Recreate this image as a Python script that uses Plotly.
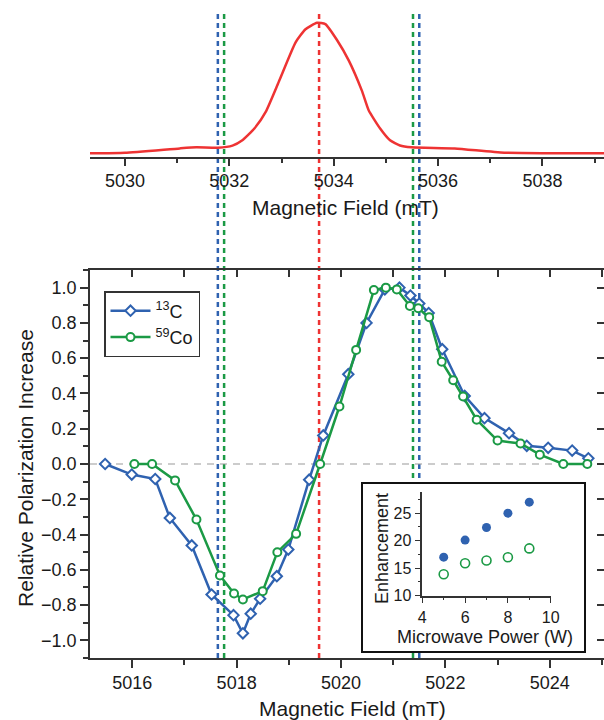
import plotly.graph_objects as go

# ---------------- data ----------------
# EPR line (top panel)
epr_field = [5029.33, 5030.0, 5031.05, 5031.37, 5031.78, 5032.06, 5032.25, 5032.48, 5032.70,
             5032.95, 5033.27, 5033.46, 5033.68, 5033.84, 5034.06, 5034.29, 5034.54, 5034.67,
             5034.89, 5035.08, 5035.27, 5035.49, 5036.32, 5037.27, 5039.18]
epr_signal = [0.0, 0.005, 0.038, 0.046, 0.043, 0.059, 0.10, 0.19, 0.32,
              0.55, 0.85, 0.95, 1.0, 0.99, 0.87, 0.71, 0.48, 0.33,
              0.19, 0.10, 0.06, 0.046, 0.038, 0.005, 0.0]

# dashed marker lines (in EPR-panel field units)
marker_fields = [5031.78, 5031.90, 5033.72, 5035.52, 5035.64]
marker_colors = ["#2F62B0", "#1B9A45", "#EE3333", "#1B9A45", "#2F62B0"]

# DNP field profiles (main panel)
c13_field = [5015.48, 5015.99, 5016.44, 5016.72, 5017.14, 5017.52, 5017.94, 5018.12, 5018.27,
             5018.45, 5018.77, 5018.99, 5019.39, 5019.66, 5020.14, 5020.49, 5020.84, 5021.12,
             5021.33, 5021.50, 5021.68, 5021.94, 5022.37, 5022.75, 5023.22, 5023.56, 5023.97,
             5024.43, 5024.74]
c13_pol = [0.0, -0.06, -0.085, -0.306, -0.462, -0.74, -0.857, -0.96, -0.849,
           -0.764, -0.636, -0.485, -0.089, 0.162, 0.509, 0.80, 0.99, 1.0,
           0.955, 0.91, 0.856, 0.651, 0.386, 0.26, 0.175, 0.103, 0.092,
           0.076, 0.032]

co59_field = [5016.04, 5016.38, 5016.82, 5017.23, 5017.68, 5017.95, 5018.12, 5018.50, 5018.78,
              5019.14, 5019.60, 5019.97, 5020.29, 5020.63, 5020.86, 5021.07, 5021.32, 5021.48,
              5021.69, 5021.93, 5022.15, 5022.34, 5022.60, 5023.00, 5023.44, 5023.81, 5024.26,
              5024.72]
co59_pol = [0.0, 0.0, -0.093, -0.315, -0.632, -0.734, -0.768, -0.721, -0.50,
            -0.396, 0.0, 0.326, 0.647, 0.986, 1.0, 0.99, 0.896, 0.883,
            0.832, 0.58, 0.475, 0.383, 0.251, 0.133, 0.116, 0.053, 0.0,
            0.0]

# inset: enhancement vs microwave power
power = [5, 6, 7, 8, 9]
enh_c13 = [17.0, 20.1, 22.4, 25.0, 27.0]
enh_co59 = [13.9, 15.9, 16.4, 17.0, 18.6]

# ---------------- style ----------------
BLUE = "#2F62B0"
GREEN = "#1B9A45"
RED = "#EE3333"
AX = "#333333"
TXT = "#1a1a1a"
FONT = "Arial, Liberation Sans, sans-serif"
W, H = 604, 720


def px_x(p):
    return p / W


def px_y(p):
    return 1 - p / H


fig = go.Figure()

# top panel EPR line
fig.add_trace(go.Scatter(x=epr_field, y=epr_signal, mode="lines",
                         line=dict(color=RED, width=2.5, shape="spline", smoothing=0.5),
                         xaxis="x", yaxis="y", showlegend=False, hoverinfo="skip"))

# main panel
fig.add_trace(go.Scatter(x=c13_field, y=c13_pol, mode="lines+markers", name="<sup>13</sup>C",
                         line=dict(color=BLUE, width=2.5),
                         marker=dict(symbol="diamond", size=8, color="white",
                                     line=dict(color=BLUE, width=2)),
                         xaxis="x2", yaxis="y2"))
fig.add_trace(go.Scatter(x=co59_field, y=co59_pol, mode="lines+markers", name="<sup>59</sup>Co",
                         line=dict(color=GREEN, width=2.5),
                         marker=dict(symbol="circle", size=8, color="white",
                                     line=dict(color=GREEN, width=2)),
                         xaxis="x2", yaxis="y2"))

# helper empty traces so overlay axes render
fig.add_trace(go.Scatter(x=[None], y=[None], xaxis="x3", yaxis="y2", showlegend=False, hoverinfo="skip"))
fig.add_trace(go.Scatter(x=[None], y=[None], xaxis="x2", yaxis="y3", showlegend=False, hoverinfo="skip"))

# inset
fig.add_trace(go.Scatter(x=power, y=enh_c13, mode="markers",
                         marker=dict(symbol="circle", size=9, color=BLUE),
                         xaxis="x4", yaxis="y4", showlegend=False, hoverinfo="skip"))
fig.add_trace(go.Scatter(x=power, y=enh_co59, mode="markers",
                         marker=dict(symbol="circle-open", size=9, color=GREEN, line=dict(width=1.6)),
                         xaxis="x4", yaxis="y4", showlegend=False, hoverinfo="skip"))

shapes = []
# dashed vertical lines spanning both panels
for f, c in zip(marker_fields, marker_colors):
    shapes.append(dict(type="line", xref="x", yref="paper", x0=f, x1=f,
                       y0=px_y(658), y1=px_y(14), layer="below",
                       line=dict(color=c, width=2.5, dash="5px,4px")))
# zero line in main panel
shapes.append(dict(type="line", xref="paper", yref="y2", x0=px_x(90), x1=1, y0=0, y1=0,
                   layer="below", line=dict(color="#9a9a9a", width=1.2, dash="7px,6px")))
# inset frame
shapes.append(dict(type="rect", xref="paper", yref="paper",
                   x0=px_x(362), x1=px_x(585), y0=px_y(652), y1=px_y(483),
                   layer="below", fillcolor="white", line=dict(color="#111", width=2)))

tickfont = dict(family=FONT, size=18, color=TXT)
common = dict(showgrid=False, zeroline=False, showline=True, linecolor=AX, linewidth=1.5,
              tickcolor=AX, tickwidth=1.5, tickfont=tickfont, automargin=False)
inset_font = dict(family=FONT, size=16, color=TXT)

main_xrange = [5015.19, 5025.04]
main_yrange = [-1.1, 1.1]
dom_x = [px_x(90), 1.0]


def label(text, x, y, size, angle=0):
    return dict(text=text, xref="paper", yref="paper", x=px_x(x), y=px_y(y),
                xanchor="center", yanchor="middle", showarrow=False, textangle=angle,
                font=dict(family=FONT, size=size, color=TXT))


annotations = [
    label("Magnetic Field (mT)", 345, 208, 21),
    label("Magnetic Field (mT)", 352, 708, 21),
    label("Relative Polarization Increase", 25, 468, 21, -90),
    label("Enhancement", 382, 549, 18, -90),
    label("Microwave Power (W)", 485, 637, 18),
]

fig.update_layout(
    width=W, height=H,
    margin=dict(l=0, r=0, t=0, b=0, pad=0),
    paper_bgcolor="white", plot_bgcolor="rgba(0,0,0,0)",
    font=dict(family=FONT, color=TXT),
    shapes=shapes, annotations=annotations,
    legend=dict(x=px_x(104), y=px_y(291), xanchor="left", yanchor="top",
                bgcolor="white", bordercolor=AX, borderwidth=1.5,
                font=dict(family=FONT, size=18, color=TXT),
                itemwidth=40, tracegroupgap=0),
    xaxis=dict(domain=dom_x, range=[5029.33, 5039.18], anchor="y",
               ticks="outside", ticklen=7, dtick=2, tick0=5030,
               minor=dict(dtick=1, ticks="outside", ticklen=4, tickcolor=AX),
               **common),
    yaxis=dict(domain=[px_y(157), px_y(14)], range=[-0.028, 1.067], anchor="x", visible=False),
    xaxis2=dict(domain=dom_x, range=main_xrange, anchor="y2",
                ticks="outside", ticklen=8, dtick=2, tick0=5016,
                minor=dict(dtick=1, ticks="outside", ticklen=5, tickcolor=AX),
                **common),
    yaxis2=dict(domain=[px_y(658), px_y(270)], range=main_yrange, anchor="x2",
                ticks="outside", ticklen=8, dtick=0.2, tick0=0, tickformat=".1f",
                minor=dict(dtick=0.1, ticks="outside", ticklen=5, tickcolor=AX),
                **common),
    xaxis3=dict(overlaying="x2", side="top", anchor="y2", range=main_xrange,
                ticks="inside", ticklen=7, dtick=1, tick0=5016, showticklabels=False,
                showgrid=False, zeroline=False, showline=True, linecolor=AX, linewidth=1.5,
                tickcolor=AX, tickwidth=1.5),
    yaxis3=dict(overlaying="y2", side="right", anchor="x2", range=main_yrange,
                ticks="inside", ticklen=7, dtick=0.2, tick0=0, showticklabels=False,
                showgrid=False, zeroline=False, showline=False,
                tickcolor=AX, tickwidth=1.5),
    xaxis4=dict(domain=[px_x(422.3), px_x(550.7)], range=[4, 10], anchor="y4",
                ticks="outside", ticklen=6, dtick=2, tick0=4,
                minor=dict(dtick=1, ticks="outside", ticklen=3, tickcolor=AX),
                showgrid=False, zeroline=False, showline=True, linecolor=AX, linewidth=1.5,
                tickcolor=AX, tickwidth=1.2, tickfont=inset_font, automargin=False),
    yaxis4=dict(domain=[px_y(595.7), px_y(491.7)], range=[10, 28.9], anchor="x4",
                ticks="outside", ticklen=6, dtick=5, tick0=10,
                minor=dict(dtick=2.5, ticks="outside", ticklen=3, tickcolor=AX),
                showgrid=False, zeroline=False, showline=True, linecolor=AX, linewidth=1.5,
                tickcolor=AX, tickwidth=1.2, tickfont=inset_font, automargin=False),
)

fig.write_html("out.html",
               config={"displayModeBar": False},
               post_script="document.body.style.margin='0';document.body.style.overflow='hidden';")
